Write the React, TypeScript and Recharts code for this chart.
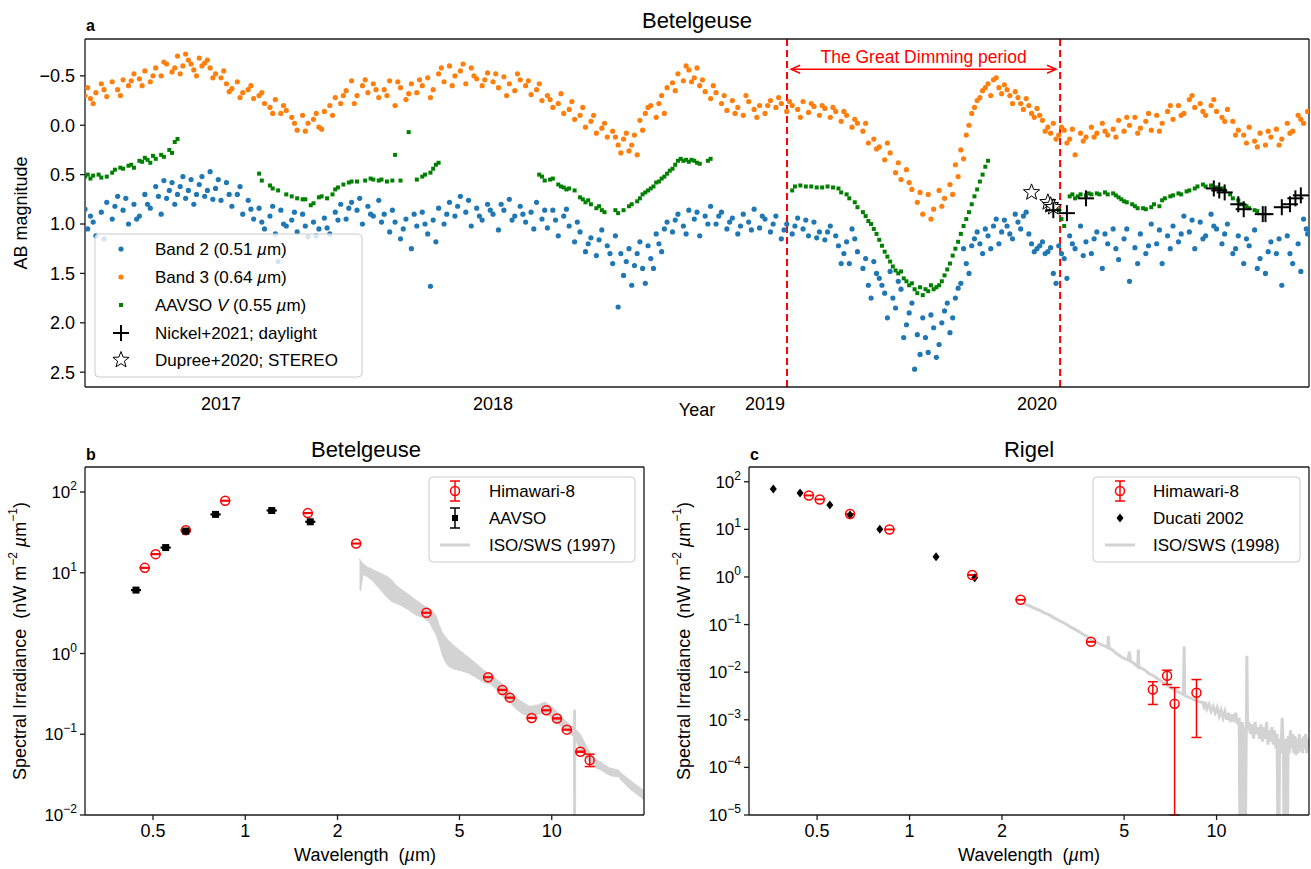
import React from 'react';
import { ComposedChart, Scatter, XAxis, YAxis, ErrorBar, ReferenceLine, Area, Line } from 'recharts';

const FONT = "'Liberation Sans', Arial, Helvetica, sans-serif";
const AX = '#1a1a1a';

// ---------------- Panel a: light curves (decimal year, AB magnitude) ----------------
const yearLabels = [2017, 2018, 2019, 2020];
const midYearTicks = [2017.5, 2018.5, 2019.5, 2020.5];
const magTicks = [-0.5, 0, 0.5, 1, 1.5, 2, 2.5];
const dimmingStart = 2019.081;
const dimmingEnd = 2020.085;

const band3: [number, number][] = [
[2016.50,-0.30],[2016.51,-0.38],[2016.52,-0.27],[2016.54,-0.33],[2016.56,-0.42],[2016.58,-0.29],[2016.60,-0.44],[2016.62,-0.36],[2016.64,-0.46],[2016.66,-0.40],[2016.68,-0.52],[2016.70,-0.47],[2016.72,-0.55],[2016.74,-0.44],[2016.76,-0.58],[2016.78,-0.50],[2016.80,-0.62],[2016.82,-0.54],[2016.84,-0.70],[2016.86,-0.60],[2016.88,-0.66],[2016.90,-0.56],[2016.92,-0.68],[2016.94,-0.63],[2016.96,-0.58],[2016.98,-0.52],
[2017.00,-0.48],[2017.02,-0.42],[2017.04,-0.37],[2017.06,-0.44],[2017.08,-0.33],[2017.10,-0.36],[2017.12,-0.27],[2017.14,-0.30],[2017.16,-0.22],[2017.18,-0.18],[2017.20,-0.26],[2017.22,-0.12],[2017.24,-0.15],[2017.26,-0.08],[2017.28,0.05],[2017.30,-0.10],[2017.32,-0.02],[2017.34,-0.06],[2017.36,0.02],[2017.38,-0.14],[2017.40,-0.20],[2017.42,-0.28],[2017.44,-0.22],[2017.46,-0.35],[2017.48,-0.45],[2017.50,-0.30],[2017.52,-0.40],[2017.54,-0.33],[2017.56,-0.42],[2017.58,-0.28],[2017.60,-0.36],[2017.62,-0.45],[2017.64,-0.20],[2017.66,-0.38],[2017.68,-0.26],[2017.70,-0.42],[2017.72,-0.33],[2017.74,-0.40],[2017.76,-0.48],[2017.78,-0.36],[2017.80,-0.52],[2017.82,-0.44],[2017.84,-0.60],[2017.86,-0.50],[2017.88,-0.55],[2017.90,-0.42],[2017.92,-0.58],[2017.94,-0.47],[2017.96,-0.40],[2017.98,-0.53],
[2018.00,-0.44],[2018.02,-0.38],[2018.04,-0.49],[2018.06,-0.42],[2018.08,-0.35],[2018.10,-0.46],[2018.12,-0.40],[2018.14,-0.31],[2018.16,-0.36],[2018.18,-0.25],[2018.20,-0.30],[2018.22,-0.18],[2018.24,-0.22],[2018.26,-0.12],[2018.28,-0.16],[2018.30,-0.06],[2018.32,-0.10],[2018.34,0.02],[2018.36,-0.04],[2018.38,0.08],[2018.40,0.03],[2018.42,0.12],[2018.44,0.06],[2018.46,0.20],[2018.48,0.14],[2018.50,0.26],[2018.52,0.10],[2018.53,0.30],[2018.54,-0.05],[2018.56,-0.12],[2018.58,-0.20],[2018.60,-0.08],[2018.62,-0.30],[2018.64,-0.38],[2018.66,-0.43],[2018.68,-0.52],[2018.70,-0.45],[2018.72,-0.56],[2018.74,-0.48],[2018.76,-0.40],[2018.78,-0.34],[2018.80,-0.27],[2018.82,-0.33],[2018.84,-0.22],[2018.86,-0.15],[2018.88,-0.25],[2018.90,-0.18],[2018.92,-0.10],[2018.94,-0.24],[2018.96,-0.16],[2018.98,-0.20],
[2019.00,-0.12],[2019.02,-0.25],[2019.04,-0.18],[2019.06,-0.22],[2019.08,-0.14],[2019.10,-0.20],[2019.12,-0.16],[2019.14,-0.24],[2019.16,-0.13],[2019.18,-0.19],[2019.20,-0.10],[2019.22,-0.17],[2019.24,-0.08],[2019.26,-0.14],[2019.28,-0.04],[2019.30,-0.10],[2019.32,0.02],[2019.34,-0.02],[2019.36,0.06],[2019.38,0.18],[2019.40,0.14],[2019.42,0.22],[2019.44,0.35],[2019.46,0.28],[2019.48,0.48],[2019.50,0.55],[2019.52,0.45],[2019.54,0.65],[2019.56,0.78],[2019.58,0.90],[2019.60,0.70],[2019.62,0.85],[2019.64,0.66],[2019.66,0.74],[2019.68,0.60],[2019.70,0.40],[2019.72,0.25],[2019.74,0.10],[2019.76,-0.12],[2019.78,-0.25],[2019.80,-0.35],[2019.82,-0.42],[2019.84,-0.46],[2019.86,-0.38],[2019.88,-0.41],[2019.90,-0.30],[2019.92,-0.34],[2019.94,-0.22],[2019.96,-0.27],[2019.98,-0.12],
[2020.00,-0.17],[2020.02,-0.05],[2020.04,0.02],[2020.06,-0.02],[2020.08,0.10],[2020.10,0.05],[2020.12,0.14],[2020.14,0.30],[2020.16,0.08],[2020.18,0.12],[2020.20,0.02],[2020.22,0.08],[2020.24,-0.02],[2020.26,0.10],[2020.28,0.04],[2020.30,-0.05],[2020.32,0.06],[2020.34,0.00],[2020.36,-0.08],[2020.38,0.03],[2020.40,-0.04],[2020.42,0.05],[2020.44,-0.10],[2020.46,-0.02],[2020.48,-0.14],[2020.50,-0.06],[2020.52,-0.20],[2020.54,-0.12],[2020.56,-0.26],[2020.58,-0.18],[2020.60,-0.22],[2020.62,-0.10],[2020.64,-0.20],[2020.66,-0.14],[2020.68,-0.08],[2020.70,-0.16],[2020.72,-0.04],[2020.74,0.05],[2020.76,0.10],[2020.78,0.02],[2020.80,0.16],[2020.82,0.08],[2020.84,0.20],[2020.86,0.12],[2020.88,0.04],[2020.90,0.14],[2020.92,-0.02],[2020.94,0.06],[2020.96,-0.10],[2020.98,-0.02],[2020.995,-0.14],
[2016.53,-0.22],[2016.57,-0.36],[2016.63,-0.30],[2016.67,-0.45],[2016.71,-0.40],[2016.75,-0.50],[2016.79,-0.64],[2016.83,-0.58],[2016.85,-0.52],[2016.87,-0.72],[2016.89,-0.62],[2016.91,-0.50],[2016.93,-0.60],[2016.95,-0.66],[2016.97,-0.48],[2017.01,-0.55],[2017.03,-0.34],[2017.07,-0.28],[2017.11,-0.40],[2017.15,-0.33],[2017.19,-0.12],[2017.23,-0.20],[2017.27,-0.02],[2017.31,0.06],[2017.35,-0.12],[2017.37,0.04],[2017.41,-0.10],[2017.45,-0.30],[2017.49,-0.22],[2017.53,-0.46],[2017.57,-0.36],[2017.61,-0.30],[2017.65,-0.44],[2017.69,-0.32],[2017.73,-0.46],[2017.77,-0.28],[2017.81,-0.58],[2017.85,-0.40],[2017.89,-0.62],[2017.93,-0.50],[2017.97,-0.46],
[2018.01,-0.52],[2018.05,-0.30],[2018.09,-0.52],[2018.13,-0.45],[2018.17,-0.42],[2018.21,-0.26],[2018.25,-0.32],[2018.29,-0.24],[2018.33,-0.18],[2018.37,-0.10],[2018.41,-0.02],[2018.45,0.12],[2018.47,0.28],[2018.49,0.08],[2018.51,0.20],[2018.55,0.05],[2018.57,-0.18],[2018.61,-0.22],[2018.63,-0.12],[2018.67,-0.35],[2018.71,-0.60],[2018.73,-0.44],[2018.75,-0.58],[2018.77,-0.46],[2018.81,-0.40],[2018.85,-0.30],[2018.89,-0.12],[2018.93,-0.30],[2018.97,-0.08],
[2019.01,-0.20],[2019.05,-0.28],[2019.09,-0.24],[2019.13,-0.08],[2019.17,-0.22],[2019.21,-0.20],[2019.25,-0.18],[2019.29,-0.14],[2019.33,-0.06],[2019.37,-0.02],[2019.41,0.24],[2019.45,0.18],[2019.49,0.38],[2019.53,0.58],[2019.57,0.68],[2019.61,0.95],[2019.65,0.82],[2019.69,0.70],[2019.71,0.52],[2019.73,0.34],[2019.75,0.00],[2019.77,-0.18],[2019.79,-0.28],[2019.81,-0.38],[2019.83,-0.30],[2019.85,-0.48],[2019.87,-0.32],[2019.89,-0.36],[2019.91,-0.22],[2019.93,-0.28],[2019.95,-0.16],[2019.97,-0.20],[2019.99,-0.08],
[2020.01,-0.10],[2020.03,0.06],[2020.05,0.08],[2020.07,0.14],[2020.09,0.02],[2020.11,0.18],[2020.13,0.04],[2020.17,0.16],[2020.21,0.12],[2020.25,0.06],[2020.29,0.12],[2020.33,-0.08],[2020.37,0.08],[2020.41,-0.12],[2020.45,0.06],[2020.49,-0.20],[2020.53,-0.10],[2020.57,-0.30],[2020.61,-0.14],[2020.65,-0.26],[2020.69,-0.04],[2020.73,0.10],[2020.77,0.18],[2020.81,0.22],[2020.85,0.06],[2020.89,0.20],[2020.93,0.08],[2020.97,-0.06]
];

const band2: [number, number][] = [
[2016.50,0.85],[2016.51,1.05],[2016.52,0.92],[2016.54,1.12],[2016.56,0.88],[2016.58,0.78],[2016.60,0.95],[2016.62,0.72],[2016.64,0.86],[2016.66,1.00],[2016.68,0.80],[2016.70,0.92],[2016.72,0.70],[2016.74,0.84],[2016.76,0.62],[2016.78,0.90],[2016.80,0.74],[2016.82,0.58],[2016.84,0.70],[2016.86,0.52],[2016.88,0.66],[2016.90,0.80],[2016.92,0.60],[2016.94,0.72],[2016.96,0.47],[2016.98,0.64],
[2017.00,0.76],[2017.02,0.58],[2017.04,0.82],[2017.06,0.70],[2017.08,0.90],[2017.10,0.76],[2017.12,0.95],[2017.14,0.84],[2017.16,1.05],[2017.18,0.92],[2017.20,1.10],[2017.22,0.86],[2017.24,1.02],[2017.26,0.96],[2017.28,1.08],[2017.30,0.90],[2017.32,1.13],[2017.34,0.98],[2017.36,1.05],[2017.38,0.94],[2017.40,1.10],[2017.42,0.88],[2017.44,0.80],[2017.46,0.95],[2017.48,0.78],[2017.50,0.86],[2017.52,1.00],[2017.54,0.82],[2017.56,0.92],[2017.58,0.76],[2017.60,0.90],[2017.62,1.08],[2017.64,0.98],[2017.66,1.15],[2017.68,0.95],[2017.70,1.25],[2017.72,1.02],[2017.74,0.88],[2017.76,1.10],[2017.78,0.96],[2017.80,0.84],[2017.82,1.00],[2017.84,0.78],[2017.86,0.92],[2017.88,0.72],[2017.90,0.88],[2017.92,1.02],[2017.94,0.84],[2017.96,0.96],[2017.98,0.80],
[2018.00,0.90],[2018.02,1.06],[2018.04,0.86],[2018.06,0.75],[2018.08,0.92],[2018.10,0.82],[2018.12,0.98],[2018.14,0.88],[2018.16,0.78],[2018.18,0.95],[2018.20,1.04],[2018.22,0.86],[2018.24,1.12],[2018.26,0.92],[2018.28,1.02],[2018.30,1.18],[2018.32,1.08],[2018.34,1.28],[2018.36,1.14],[2018.38,1.32],[2018.40,1.06],[2018.42,1.22],[2018.44,1.40],[2018.46,1.84],[2018.47,1.30],[2018.48,1.52],[2018.50,1.25],[2018.52,1.42],[2018.54,1.18],[2018.56,1.60],[2018.58,1.35],[2018.60,1.10],[2018.62,1.28],[2018.64,0.98],[2018.66,1.08],[2018.68,0.90],[2018.70,1.02],[2018.72,0.86],[2018.74,0.95],[2018.76,1.12],[2018.78,0.92],[2018.80,0.82],[2018.82,1.00],[2018.84,0.88],[2018.86,1.05],[2018.88,0.94],[2018.90,1.10],[2018.92,0.90],[2018.94,0.98],[2018.96,0.85],[2018.98,1.04],
[2019.00,0.95],[2019.02,1.08],[2019.04,0.92],[2019.06,1.15],[2019.08,1.00],[2019.10,1.10],[2019.12,0.94],[2019.14,1.05],[2019.16,1.12],[2019.18,0.98],[2019.20,1.08],[2019.22,1.16],[2019.24,1.02],[2019.26,1.12],[2019.28,1.40],[2019.30,1.18],[2019.32,1.05],[2019.34,1.28],[2019.36,1.45],[2019.38,1.62],[2019.40,1.38],[2019.42,1.55],[2019.44,1.70],[2019.46,1.48],[2019.48,1.85],[2019.50,1.66],[2019.52,2.02],[2019.54,1.80],[2019.55,2.47],[2019.56,2.12],[2019.58,1.95],[2019.60,2.30],[2019.62,2.05],[2019.64,2.22],[2019.66,1.88],[2019.68,2.10],[2019.70,1.75],[2019.72,1.60],[2019.74,1.40],[2019.76,1.22],[2019.78,1.08],[2019.80,1.30],[2019.82,1.12],[2019.84,1.02],[2019.86,1.20],[2019.88,0.96],[2019.90,1.10],[2019.92,0.90],[2019.94,1.05],[2019.96,0.88],[2019.98,1.20],
[2020.00,1.25],[2020.02,1.18],[2020.04,1.28],[2020.06,1.50],[2020.08,1.22],[2020.10,1.35],[2020.12,1.12],[2020.14,1.25],[2020.16,1.02],[2020.18,1.18],[2020.20,1.30],[2020.22,1.08],[2020.24,1.45],[2020.26,1.20],[2020.28,1.05],[2020.30,1.36],[2020.32,1.15],[2020.34,1.58],[2020.36,1.24],[2020.38,1.10],[2020.40,1.30],[2020.42,1.00],[2020.44,1.20],[2020.46,1.40],[2020.48,1.12],[2020.50,1.02],[2020.52,1.18],[2020.54,0.92],[2020.56,1.08],[2020.58,1.25],[2020.60,0.98],[2020.62,1.12],[2020.64,0.90],[2020.66,1.05],[2020.68,1.20],[2020.70,1.00],[2020.72,1.30],[2020.74,1.12],[2020.76,1.40],[2020.78,1.22],[2020.80,1.06],[2020.82,1.35],[2020.84,1.50],[2020.86,1.18],[2020.88,1.30],[2020.90,1.62],[2020.92,1.12],[2020.94,1.40],[2020.96,1.20],[2020.98,0.95],[2020.995,1.10],
[2016.53,0.98],[2016.57,1.15],[2016.61,0.82],[2016.65,0.74],[2016.69,0.95],[2016.73,0.80],[2016.77,0.72],[2016.79,0.56],[2016.81,0.66],[2016.83,0.80],[2016.85,0.62],[2016.87,0.74],[2016.89,0.55],[2016.91,0.70],[2016.93,0.52],[2016.95,0.66],[2016.97,0.75],[2016.99,0.55],[2017.03,0.70],[2017.07,0.62],[2017.11,0.85],[2017.15,0.98],[2017.19,0.82],[2017.21,1.38],[2017.23,1.00],[2017.27,0.88],[2017.31,1.02],[2017.35,1.12],[2017.39,1.04],[2017.43,0.96],[2017.47,0.84],[2017.51,0.74],[2017.55,0.90],[2017.59,0.98],[2017.63,0.86],[2017.67,1.05],[2017.71,0.90],[2017.75,1.00],[2017.77,1.63],[2017.79,1.18],[2017.83,0.90],[2017.87,0.82],[2017.91,0.76],[2017.95,0.92],[2017.99,0.86],
[2018.03,0.80],[2018.07,0.96],[2018.11,0.90],[2018.15,1.05],[2018.19,0.86],[2018.23,0.96],[2018.27,0.85],[2018.31,0.98],[2018.35,1.20],[2018.39,1.16],[2018.43,1.30],[2018.45,1.12],[2018.49,1.38],[2018.51,1.62],[2018.53,1.30],[2018.55,1.45],[2018.57,1.22],[2018.59,1.45],[2018.61,1.20],[2018.63,1.05],[2018.67,0.96],[2018.71,1.10],[2018.75,0.88],[2018.79,1.00],[2018.83,0.92],[2018.87,0.98],[2018.91,1.02],[2018.95,1.06],[2018.99,0.92],
[2019.03,1.00],[2019.07,1.06],[2019.11,1.02],[2019.15,0.96],[2019.19,1.14],[2019.23,1.08],[2019.27,1.22],[2019.29,1.30],[2019.31,1.40],[2019.33,1.15],[2019.37,1.35],[2019.39,1.75],[2019.41,1.50],[2019.43,1.62],[2019.45,1.95],[2019.47,1.75],[2019.49,1.58],[2019.51,2.15],[2019.53,1.90],[2019.57,2.32],[2019.59,2.15],[2019.61,1.92],[2019.63,2.35],[2019.65,2.00],[2019.67,1.80],[2019.69,1.95],[2019.71,1.65],[2019.73,1.25],[2019.75,1.50],[2019.77,1.15],[2019.79,1.20],[2019.81,1.05],[2019.83,1.25],[2019.85,0.95],[2019.87,1.08],[2019.89,1.02],[2019.91,1.15],[2019.93,0.98],[2019.95,0.92],[2019.97,1.10],[2019.99,1.28],
[2020.01,1.22],[2020.03,1.30],[2020.05,1.24],[2020.07,1.60],[2020.09,1.30],[2020.11,1.55],[2020.13,1.20],[2020.17,1.32],[2020.21,1.15],[2020.25,1.10],[2020.29,1.25],[2020.33,1.05],[2020.37,1.40],[2020.41,1.22],[2020.45,1.06],[2020.49,1.25],[2020.53,1.10],[2020.57,0.96],[2020.61,1.15],[2020.65,1.02],[2020.69,1.10],[2020.73,1.25],[2020.77,1.15],[2020.81,1.45],[2020.85,1.28],[2020.89,1.15],[2020.93,1.30],[2020.97,1.48],[2020.99,1.05]
];

const aavsoV: [number, number][] = [
[2016.50,0.52],[2016.51,0.50],[2016.52,0.54],[2016.53,0.51],[2016.55,0.50],[2016.56,0.53],[2016.58,0.52],[2016.60,0.48],[2016.61,0.45],[2016.63,0.43],[2016.64,0.44],[2016.66,0.41],[2016.67,0.40],[2016.68,0.43],[2016.70,0.36],[2016.71,0.37],[2016.72,0.33],[2016.73,0.35],[2016.74,0.38],[2016.75,0.31],[2016.76,0.34],[2016.78,0.30],[2016.79,0.32],[2016.81,0.25],[2016.82,0.28],[2016.83,0.17],[2016.84,0.14],
[2017.14,0.49],[2017.15,0.56],[2017.18,0.61],[2017.19,0.64],[2017.21,0.66],[2017.24,0.70],[2017.26,0.72],[2017.28,0.74],[2017.30,0.75],[2017.31,0.75],[2017.33,0.81],[2017.34,0.79],[2017.36,0.73],[2017.37,0.72],[2017.39,0.74],[2017.41,0.70],[2017.42,0.65],[2017.43,0.63],[2017.45,0.60],[2017.47,0.58],[2017.48,0.57],[2017.50,0.57],[2017.53,0.56],[2017.55,0.54],[2017.56,0.55],[2017.58,0.56],[2017.59,0.55],[2017.61,0.57],[2017.63,0.56],[2017.64,0.30],[2017.66,0.56],[2017.69,0.07],[2017.72,0.55],[2017.74,0.52],[2017.75,0.50],[2017.77,0.48],[2017.78,0.44],[2017.79,0.40],[2017.80,0.38],
[2018.17,0.50],[2018.18,0.52],[2018.19,0.56],[2018.21,0.55],[2018.22,0.54],[2018.24,0.60],[2018.25,0.62],[2018.26,0.63],[2018.27,0.65],[2018.28,0.64],[2018.30,0.66],[2018.32,0.73],[2018.33,0.75],[2018.34,0.78],[2018.35,0.76],[2018.36,0.80],[2018.38,0.84],[2018.39,0.82],[2018.40,0.86],[2018.41,0.88],[2018.45,0.86],[2018.46,0.89],[2018.48,0.86],[2018.50,0.82],[2018.51,0.80],[2018.53,0.77],[2018.54,0.74],[2018.55,0.70],[2018.56,0.68],[2018.57,0.66],[2018.58,0.64],[2018.59,0.62],[2018.60,0.58],[2018.61,0.57],[2018.62,0.54],[2018.63,0.52],[2018.64,0.49],[2018.65,0.46],[2018.66,0.44],[2018.67,0.40],[2018.68,0.36],[2018.69,0.34],[2018.70,0.36],[2018.71,0.35],[2018.72,0.37],[2018.73,0.35],[2018.74,0.36],[2018.75,0.38],[2018.76,0.39],[2018.79,0.36],[2018.80,0.34],
[2019.10,0.66],[2019.11,0.62],[2019.13,0.61],[2019.15,0.62],[2019.17,0.62],[2019.19,0.63],[2019.21,0.63],[2019.23,0.62],[2019.25,0.63],[2019.27,0.64],[2019.28,0.68],[2019.30,0.70],[2019.31,0.74],[2019.33,0.78],[2019.34,0.83],[2019.36,0.88],[2019.37,0.92],[2019.38,0.97],[2019.39,1.00],[2019.40,1.05],[2019.41,1.10],[2019.42,1.16],[2019.43,1.22],[2019.44,1.28],[2019.45,1.33],[2019.46,1.38],[2019.47,1.43],[2019.48,1.47],[2019.49,1.50],[2019.50,1.48],[2019.51,1.55],[2019.52,1.58],[2019.53,1.62],[2019.54,1.60],[2019.55,1.66],[2019.56,1.70],[2019.57,1.64],[2019.58,1.72],[2019.59,1.66],[2019.60,1.68],[2019.61,1.62],[2019.62,1.66],[2019.63,1.64],[2019.64,1.62],[2019.65,1.58],[2019.66,1.52],[2019.67,1.46],[2019.68,1.40],[2019.69,1.32],[2019.70,1.25],[2019.71,1.18],[2019.72,1.10],[2019.73,1.02],[2019.74,0.95],[2019.75,0.88],[2019.76,0.80],[2019.77,0.72],[2019.78,0.65],[2019.79,0.57],[2019.80,0.50],[2019.81,0.42],[2019.82,0.36],
[2020.08,0.86],[2020.09,0.95],[2020.10,1.02],[2020.12,0.72],[2020.13,0.70],[2020.14,0.74],[2020.15,0.72],[2020.16,0.70],[2020.18,0.71],[2020.19,0.69],[2020.20,0.70],[2020.22,0.69],[2020.23,0.70],[2020.25,0.68],[2020.26,0.70],[2020.28,0.69],[2020.29,0.71],[2020.30,0.73],[2020.31,0.75],[2020.32,0.77],[2020.33,0.78],[2020.35,0.80],[2020.36,0.82],[2020.37,0.84],[2020.39,0.84],[2020.40,0.85],[2020.42,0.83],[2020.43,0.80],[2020.45,0.82],[2020.46,0.76],[2020.47,0.74],[2020.49,0.72],[2020.50,0.71],[2020.52,0.69],[2020.53,0.70],[2020.55,0.67],[2020.56,0.66],[2020.58,0.64],[2020.59,0.62],[2020.61,0.60],[2020.62,0.62],[2020.64,0.61],[2020.66,0.63],[2020.68,0.64],[2020.69,0.66],[2020.71,0.70],[2020.72,0.74],[2020.74,0.76],[2020.75,0.80],[2020.77,0.82],[2020.78,0.84],[2020.80,0.86],[2020.81,0.87]
];

const nickel2021: [number, number][] = [
[2020.06,0.86],[2020.11,0.89],[2020.18,0.74],[2020.65,0.64],[2020.67,0.66],[2020.69,0.68],[2020.74,0.80],[2020.76,0.85],[2020.83,0.90],[2020.84,0.90],[2020.90,0.83],[2020.93,0.80],[2020.95,0.74],[2020.97,0.71]
];

const dupree2020: [number, number][] = [
[2019.98,0.68],[2020.04,0.78],[2020.05,0.81],[2020.06,0.83]
];

// ---------------- Panels b, c: spectral energy distributions ----------------
// [wavelength um, irradiance nW m^-2 um^-1, lower error, upper error]
const betelHimawari: [number, number, number, number][] = [
[0.47,11.5,0.1,0.1],[0.51,17,0.15,0.15],[0.64,33.7,0.3,0.3],[0.86,78,0.7,0.7],[1.6,54.8,0.5,0.5],[2.3,23,0.2,0.2],[3.9,3.2,0.03,0.03],[6.2,0.508,0.005,0.005],[6.9,0.354,0.004,0.004],[7.3,0.284,0.003,0.003],[8.6,0.159,0.002,0.002],[9.6,0.198,0.002,0.002],[10.4,0.157,0.002,0.002],[11.2,0.114,0.001,0.001],[12.4,0.0607,0.001,0.001],[13.3,0.0478,0.008,0.0089]
];
const betelAAVSO: [number, number, number, number][] = [
[0.44,6.1,0.06,0.06],[0.55,20.5,0.2,0.2],[0.64,32.8,0.3,0.3],[0.80,52.8,0.5,0.5],[1.22,59,0.6,0.6],[1.63,42.8,0.4,0.4]
];
// ISO/SWS 1997 spectrum envelope [wavelength, low, high]
const betelISO: [number, number, number][] = [
[2.36,6.4,15],[2.38,6.0,14],[2.42,9.5,13],[2.5,9.0,11.8],[2.6,8.0,11.0],[2.7,6.8,10.2],[2.8,5.8,9.6],[2.9,5.0,9.0],[3.0,4.4,8.2],[3.1,4.2,7.0],[3.2,4.0,6.4],[3.4,3.5,5.4],[3.6,3.0,4.6],[3.8,2.8,4.0],[3.9,2.6,3.7],[4.0,2.4,3.6],[4.1,2.0,3.3],[4.2,1.7,2.9],[4.3,1.3,2.2],[4.4,0.95,1.8],[4.5,0.78,1.6],[4.6,0.7,1.45],[4.8,0.64,1.25],[5.0,0.62,1.1],[5.3,0.58,0.92],[5.6,0.52,0.78],[6.0,0.44,0.62],[6.3,0.42,0.55],[6.6,0.36,0.48],[7.0,0.28,0.40],[7.3,0.25,0.34],[7.6,0.21,0.29],[8.0,0.18,0.25],[8.5,0.165,0.22],[9.0,0.175,0.23],[9.5,0.185,0.25],[10.0,0.16,0.22],[10.5,0.135,0.185],[11.0,0.115,0.15],[11.5,0.1,0.13],[11.78,0.095,0.12],[11.8,0.0001,0.2],[11.95,0.0001,0.2],[11.97,0.085,0.115],[12.4,0.064,0.1],[13.0,0.05,0.07],[13.5,0.042,0.055],[14.0,0.038,0.048],[14.5,0.036,0.045],[15.0,0.033,0.041],[15.5,0.031,0.038],[16.0,0.03,0.037],[16.5,0.03,0.036],[17.0,0.026,0.032],[18.0,0.021,0.027],[19.0,0.018,0.023],[20.0,0.0155,0.02]
];

const rigelHimawari: [number, number, number, number][] = [
[0.47,51.5,0.5,0.5],[0.51,42.5,0.4,0.4],[0.64,21,0.2,0.2],[0.86,9.95,0.1,0.1],[1.6,1.1,0.01,0.01],[2.3,0.332,0.003,0.003],[3.9,0.0435,0.0004,0.0004],[6.2,0.0043,0.0022,0.002],[6.9,0.0084,0.0029,0.0026],[7.3,0.00216,0.00215,0.00259],[8.6,0.0037,0.003275,0.0033]
];
const rigelDucati: [number, number][] = [
[0.36,70],[0.44,58],[0.55,32.4],[0.64,20],[0.80,10.1],[1.22,2.65],[1.63,0.96]
];
// ISO/SWS 1998 spectrum [wavelength, irradiance]
const rigelISO: [number, number][] = [
[2.35,0.28],[2.45,0.25],[2.55,0.22],[2.65,0.2],[2.75,0.175],[2.85,0.16],[2.95,0.14],[3.05,0.125],[3.15,0.112],[3.25,0.1],[3.35,0.088],[3.45,0.08],[3.55,0.072],[3.65,0.064],[3.75,0.058],[3.85,0.052],[3.95,0.046],[4.05,0.043],[4.15,0.04],[4.25,0.037],[4.35,0.035],[4.42,0.033],[4.44,0.058],[4.46,0.033],[4.55,0.03],[4.65,0.027],[4.75,0.024],[4.85,0.022],[4.95,0.02],[5.05,0.019],[5.15,0.018],[5.2,0.027],[5.25,0.017],[5.4,0.015],[5.54,0.013],[5.56,0.03],[5.58,0.013],[5.7,0.012],[5.85,0.011],[6.0,0.0095],[6.15,0.0088],[6.3,0.008],[6.45,0.0072],[6.6,0.0065],[6.8,0.0058],[7.0,0.005],[7.2,0.0045],[7.4,0.004],[7.6,0.0037],[7.8,0.0034],[7.84,0.035],[7.88,0.0033],[8.0,0.0031],[8.3,0.0028],[8.6,0.0025],
[9.0,0.0023],[9.1,0.0019],[9.2,0.0024],[9.3,0.0017],[9.45,0.0021],[9.6,0.0015],[9.75,0.0019],[9.9,0.0014],[10.05,0.0018],[10.2,0.0012],[10.35,0.0016],[10.5,0.0011],[10.65,0.0015],[10.8,0.001],[10.95,0.0014],[11.1,0.0009],[11.25,0.0013],[11.4,0.0009],[11.55,0.0014],[11.7,0.0008],[11.85,0.0011],[11.95,0.0000001],[12.1,0.0009],[12.25,0.0006],[12.35,0.0000001],[12.5,0.0008],[12.55,0.022],[12.62,0.0006],[12.75,0.0009],[12.9,0.0005],[13.05,0.0008],[13.2,0.0004],[13.35,0.0009],[13.5,0.0005],[13.65,0.0007],[13.8,0.0004],[13.95,0.0008],[14.1,0.00035],[14.25,0.0007],[14.4,0.0004],[14.55,0.0009],[14.7,0.0003],[14.85,0.0006],[15.0,0.00035],[15.15,0.0007],[15.3,0.0003],[15.45,0.0006],[15.6,0.00025],[15.75,0.0005],[15.9,0.0000001],[16.05,0.0004],[16.2,0.0002],[16.35,0.0011],[16.5,0.00025],[16.65,0.0000001],[16.8,0.0004],[16.95,0.0000001],[17.1,0.00045],[17.25,0.0002],[17.4,0.0006],[17.55,0.00025],[17.7,0.0005],[17.85,0.0002],[18.0,0.00045],[18.15,0.00018],[18.3,0.0004],[18.45,0.0002],[18.6,0.0005],[18.75,0.00022],[18.9,0.0004],[19.05,0.0002],[19.2,0.00045],[19.35,0.00025],[19.5,0.0005],[19.65,0.0002],[19.8,0.0004],[20.0,0.00025]
];

const lamDomain: [number, number] = [0.3, 20];
const lamMajor = [0.5, 1, 2, 5, 10];
const lamMinor = [0.3, 0.4, 0.6, 0.7, 0.8, 0.9, 3, 4, 6, 7, 8, 9, 20];
const fluxTop = 204;
const decadesB = [0.01, 0.1, 1, 10, 100];
const decadesC = [1e-5, 1e-4, 1e-3, 0.01, 0.1, 1, 10, 100];
const minorsOf = (decs: number[]) => {
  const out: number[] = [];
  decs.forEach((d) => { for (let k = 2; k <= 9; k++) { const v = k * d; if (v <= fluxTop) out.push(v); } });
  return out;
};
const minorB = minorsOf(decadesB);
const minorC = minorsOf(decadesC);

// -------- data objects for the library --------
const toTM = (a: [number, number][]) => a.map(([t, m]) => ({ t, m }));
const toErr = (a: [number, number, number, number][]) => a.map(([w, v, lo, hi]) => ({ w, v, err: [lo, hi] }));
const b2Data = toTM(band2);
const b3Data = toTM(band3);
const avData = toTM(aavsoV);
const nkData = toTM(nickel2021);
const dpData = toTM(dupree2020);
const bHimData = toErr(betelHimawari);
const bAavData = toErr(betelAAVSO);
const bIsoData = betelISO.map(([w, lo, hi]) => ({ w, band: [lo, hi] }));
const rHimData = toErr(rigelHimawari);
const rDucData = rigelDucati.map(([w, v]) => ({ w, v }));
const rIsoData = rigelISO.map(([w, f]) => ({ w, f }));

// -------- shapes --------
const dotShape = (color: string, r: number) => (p: any) => <circle cx={p.cx} cy={p.cy} r={r} fill={color} />;
const squareShape = (color: string, s: number) => (p: any) => <rect x={p.cx - s / 2} y={p.cy - s / 2} width={s} height={s} fill={color} />;
const plusShape = (p: any) => (
  <g stroke="#000" strokeWidth={2}>
    <line x1={p.cx - 8} y1={p.cy} x2={p.cx + 8} y2={p.cy} />
    <line x1={p.cx} y1={p.cy - 8} x2={p.cx} y2={p.cy + 8} />
  </g>
);
const starPoints = (cx: number, cy: number, R: number, r: number) => {
  const pts: string[] = [];
  for (let i = 0; i < 10; i++) {
    const a = (-90 + i * 36) * Math.PI / 180;
    const rr = i % 2 === 0 ? R : r;
    pts.push(`${cx + rr * Math.cos(a)},${cy + rr * Math.sin(a)}`);
  }
  return pts.join(' ');
};
const starShape = (p: any) => <polygon points={starPoints(p.cx, p.cy, 8.5, 3.6)} fill="#fff" stroke="#000" strokeWidth={1} />;
const openCircle = (p: any) => <circle cx={p.cx} cy={p.cy} r={4.5} fill="none" stroke="#ff0000" strokeWidth={1.5} />;
const diamondShape = (p: any) => <polygon points={`${p.cx},${p.cy - 4.5} ${p.cx + 3.5},${p.cy} ${p.cx},${p.cy + 4.5} ${p.cx - 3.5},${p.cy}`} fill="#000" />;

const DimArrow = (p: any) => {
  const { x1, y1, x2 } = p;
  const y = y1;
  return (
    <g>
      <line x1={x1} y1={y} x2={x2} y2={y} stroke="#ff0000" strokeWidth={1.5} />
      <polyline points={`${x1 + 9},${y - 4} ${x1},${y} ${x1 + 9},${y + 4}`} fill="none" stroke="#ff0000" strokeWidth={1.5} />
      <polyline points={`${x2 - 9},${y - 4} ${x2},${y} ${x2 - 9},${y + 4}`} fill="none" stroke="#ff0000" strokeWidth={1.5} />
      <text x={(x1 + x2) / 2} y={y - 6} textAnchor="middle" fill="#ff0000" fontSize={17.5} fontFamily={FONT}>The Great Dimming period</text>
    </g>
  );
};

const tickStyle = { fill: '#000', fontSize: 18, fontFamily: FONT };
const fmtMag = (v: number) => (v < 0 ? '\u2212' + Math.abs(v).toFixed(1) : v.toFixed(1));

function PowTick(props: any) {
  const { x, y, payload } = props;
  const e = Math.round(Math.log10(payload.value));
  const s = e < 0 ? '\u2212' + Math.abs(e) : String(e);
  return (
    <text x={x} y={y} dy={6} textAnchor="end" fill="#000" fontSize={17} fontFamily={FONT}>
      10<tspan dy={-8} fontSize={12}>{s}</tspan>
    </text>
  );
}

// Major (labelled) axes are declared first so they sit on the plot edge; minor tick axes follow (1 px further out).
const logXAxes = (dataKeyName: string) => [
  <XAxis key="xb" xAxisId="xb" dataKey={dataKeyName} type="number" scale="log" orientation="bottom" domain={lamDomain} allowDataOverflow ticks={lamMajor} interval={0} tickSize={5} tickMargin={4} tick={tickStyle} tickFormatter={(v: number) => String(v)} stroke={AX} strokeWidth={1.3} height={1} />,
  <XAxis key="xbm" xAxisId="xbm" type="number" scale="log" orientation="bottom" domain={lamDomain} allowDataOverflow ticks={lamMinor} interval={0} tick={false} tickSize={3} axisLine={false} stroke={AX} strokeWidth={1.2} height={1} />,
  <XAxis key="xt" xAxisId="xt" type="number" scale="log" orientation="top" domain={lamDomain} allowDataOverflow ticks={lamMajor} interval={0} tick={false} tickSize={5} stroke={AX} strokeWidth={1.3} height={1} />,
  <XAxis key="xtm" xAxisId="xtm" type="number" scale="log" orientation="top" domain={lamDomain} allowDataOverflow ticks={lamMinor} interval={0} tick={false} tickSize={3} axisLine={false} stroke={AX} strokeWidth={1.2} height={1} />,
];
const logYAxes = (dom: [number, number], decs: number[], mins: number[]) => [
  <YAxis key="yl" yAxisId="yl" type="number" scale="log" orientation="left" domain={dom} allowDataOverflow ticks={decs} interval={0} tickSize={5} tickMargin={3} tick={<PowTick />} stroke={AX} strokeWidth={1.3} width={1} />,
  <YAxis key="ylm" yAxisId="ylm" type="number" scale="log" orientation="left" domain={dom} allowDataOverflow ticks={mins} interval={0} tick={false} tickSize={3} axisLine={false} stroke={AX} strokeWidth={1.2} width={1} />,
  <YAxis key="yr" yAxisId="yr" type="number" scale="log" orientation="right" domain={dom} allowDataOverflow ticks={decs} interval={0} tick={false} tickSize={5} stroke={AX} strokeWidth={1.3} width={1} />,
  <YAxis key="yrm" yAxisId="yrm" type="number" scale="log" orientation="right" domain={dom} allowDataOverflow ticks={mins} interval={0} tick={false} tickSize={3} axisLine={false} stroke={AX} strokeWidth={1.2} width={1} />,
];

const MU = () => <tspan fontStyle="italic">µ</tspan>;

export default function App() {
  return (
    <div style={{ position: 'absolute', left: 0, top: 0, width: 1311, height: 869, background: '#fff', fontFamily: FONT }}>
      {/* Panel a */}
      <div style={{ position: 'absolute', left: 0, top: 0 }}>
        <ComposedChart width={1311} height={420} margin={{ top: 38, right: 1, bottom: 31, left: 84 }}>
          <XAxis xAxisId="xb" dataKey="t" type="number" orientation="bottom" domain={[2016.5, 2021]} allowDataOverflow ticks={yearLabels} interval={0} tickLine={false} tickSize={4} tickMargin={6} tick={tickStyle} stroke={AX} strokeWidth={1.3} height={1} />
          <XAxis xAxisId="xbm" type="number" orientation="bottom" domain={[2016.5, 2021]} allowDataOverflow ticks={midYearTicks} interval={0} tick={false} tickSize={5} axisLine={false} stroke={AX} strokeWidth={1.3} height={1} />
          <XAxis xAxisId="xt" type="number" orientation="top" domain={[2016.5, 2021]} allowDataOverflow ticks={midYearTicks} interval={0} tick={false} tickSize={5} stroke={AX} strokeWidth={1.3} height={1} />
          <YAxis yAxisId="yl" type="number" orientation="left" domain={[-0.873, 2.65]} reversed allowDataOverflow ticks={magTicks} interval={0} tickFormatter={fmtMag} tick={tickStyle} tickSize={5} tickMargin={5} stroke={AX} strokeWidth={1.3} width={1} />
          <YAxis yAxisId="yr" type="number" orientation="right" domain={[-0.873, 2.65]} reversed allowDataOverflow ticks={magTicks} interval={0} tick={false} tickSize={5} stroke={AX} strokeWidth={1.3} width={1} />
          <Scatter xAxisId="xb" yAxisId="yl" data={b2Data} dataKey="m" shape={dotShape('#1f77b4', 2.6)} isAnimationActive={false} />
          <Scatter xAxisId="xb" yAxisId="yl" data={b3Data} dataKey="m" shape={dotShape('#ff7f0e', 2.6)} isAnimationActive={false} />
          <Scatter xAxisId="xb" yAxisId="yl" data={avData} dataKey="m" shape={squareShape('#008000', 4)} isAnimationActive={false} />
          <Scatter xAxisId="xb" yAxisId="yl" data={dpData} dataKey="m" shape={starShape} isAnimationActive={false} />
          <Scatter xAxisId="xb" yAxisId="yl" data={nkData} dataKey="m" shape={plusShape} isAnimationActive={false} />
          <ReferenceLine xAxisId="xb" yAxisId="yl" x={dimmingStart} stroke="#ff0000" strokeWidth={2} strokeDasharray="7 4" />
          <ReferenceLine xAxisId="xb" yAxisId="yl" x={dimmingEnd} stroke="#ff0000" strokeWidth={2} strokeDasharray="7 4" />
          <ReferenceLine xAxisId="xb" yAxisId="yl" segment={[{ x: dimmingStart + 0.015, y: -0.567 }, { x: dimmingEnd - 0.015, y: -0.567 }]} shape={DimArrow} />
        </ComposedChart>
      </div>

      {/* Panel b */}
      <div style={{ position: 'absolute', left: 0, top: 420 }}>
        <ComposedChart width={660} height={449} data={bIsoData} margin={{ top: 45, right: 14, bottom: 52, left: 83 }}>
          {logXAxes('w')}
          {logYAxes([0.01, fluxTop], decadesB, minorB)}
          <Area xAxisId="xb" yAxisId="yl" type="linear" dataKey="band" stroke="#d3d3d3" strokeWidth={1} fill="#d3d3d3" fillOpacity={1} dot={false} activeDot={false} isAnimationActive={false} />
          <Scatter xAxisId="xb" yAxisId="yl" data={bHimData} dataKey="v" shape={openCircle} isAnimationActive={false}>
            <ErrorBar dataKey="err" direction="y" width={5} stroke="#ff0000" strokeWidth={1.5} />
          </Scatter>
          <Scatter xAxisId="xb" yAxisId="yl" data={bAavData} dataKey="v" shape={squareShape('#000', 7)} isAnimationActive={false}>
            <ErrorBar dataKey="err" direction="y" width={5} stroke="#000" strokeWidth={1.5} />
          </Scatter>
        </ComposedChart>
      </div>

      {/* Panel c */}
      <div style={{ position: 'absolute', left: 660, top: 420 }}>
        <ComposedChart width={651} height={449} data={rIsoData} margin={{ top: 45, right: 0, bottom: 52, left: 87 }}>
          {logXAxes('w')}
          {logYAxes([1e-5, fluxTop], decadesC, minorC)}
          <Line xAxisId="xb" yAxisId="yl" type="linear" dataKey="f" stroke="#d3d3d3" strokeWidth={3} dot={false} activeDot={false} isAnimationActive={false} />
          <Scatter xAxisId="xb" yAxisId="yl" data={rDucData} dataKey="v" shape={diamondShape} isAnimationActive={false} />
          <Scatter xAxisId="xb" yAxisId="yl" data={rHimData} dataKey="v" shape={openCircle} isAnimationActive={false}>
            <ErrorBar dataKey="err" direction="y" width={5} stroke="#ff0000" strokeWidth={1.5} />
          </Scatter>
        </ComposedChart>
      </div>

      {/* Text and legends overlay */}
      <svg width={1311} height={869} style={{ position: 'absolute', left: 0, top: 0, pointerEvents: 'none' }} fontFamily={FONT}>
        {/* panel a */}
        <text x={86} y={31} fontSize={16} fontWeight="bold">a</text>
        <text x={697} y={28} fontSize={22} textAnchor="middle">Betelgeuse</text>
        <text transform="translate(21,213) rotate(-90)" fontSize={18} textAnchor="middle" dominantBaseline="central">AB magnitude</text>
        <text x={697} y={416} fontSize={18} textAnchor="middle">Year</text>
        <rect x={95} y={234} width={267} height={143} rx={4} fill="#fff" fillOpacity={0.8} stroke="#cccccc" strokeWidth={1} />
        <circle cx={121} cy={249} r={2.6} fill="#1f77b4" />
        <circle cx={121} cy={277} r={2.6} fill="#ff7f0e" />
        <rect x={119} y={303} width={4} height={4} fill="#008000" />
        <g stroke="#000" strokeWidth={2}><line x1={113} y1={333} x2={129} y2={333} /><line x1={121} y1={325} x2={121} y2={341} /></g>
        <polygon points={starPoints(121, 360, 8.5, 3.6)} fill="#fff" stroke="#000" strokeWidth={1} />
        <text x={155} y={249} fontSize={17} dominantBaseline="central">Band 2 (0.51 <MU />m)</text>
        <text x={155} y={277} fontSize={17} dominantBaseline="central">Band 3 (0.64 <MU />m)</text>
        <text x={155} y={305} fontSize={17} dominantBaseline="central">AAVSO  <tspan fontStyle="italic">V</tspan> (0.55 <MU />m)</text>
        <text x={155} y={333} fontSize={17} dominantBaseline="central">Nickel+2021; daylight</text>
        <text x={155} y={360} fontSize={17} dominantBaseline="central">Dupree+2020; STEREO</text>

        {/* panel b */}
        <text x={86} y={460} fontSize={16} fontWeight="bold">b</text>
        <text x={366} y={457} fontSize={22} textAnchor="middle">Betelgeuse</text>
        <text transform="translate(20,641) rotate(-90)" fontSize={18} textAnchor="middle" dominantBaseline="central">
          Spectral Irradiance{'\u00a0\u00a0'}(nW m<tspan dy={-7} fontSize={12}>{'\u22122'}</tspan><tspan dy={7}>{'\u00a0'}</tspan><MU />m<tspan dy={-7} fontSize={12}>{'\u22121'}</tspan><tspan dy={7}>)</tspan>
        </text>
        <text x={365} y={861} fontSize={18} textAnchor="middle">Wavelength{'\u00a0\u00a0'}(<MU />m)</text>
        <rect x={429} y={477} width={206} height={85} rx={4} fill="#fff" fillOpacity={0.8} stroke="#cccccc" strokeWidth={1} />
        <g stroke="#ff0000" strokeWidth={1.5} fill="none">
          <line x1={455} y1={481} x2={455} y2={501} /><line x1={450} y1={481} x2={460} y2={481} /><line x1={450} y1={501} x2={460} y2={501} />
          <circle cx={455} cy={491} r={4.5} />
        </g>
        <g stroke="#000" strokeWidth={1.5}>
          <line x1={455} y1={508} x2={455} y2={528} /><line x1={450} y1={508} x2={460} y2={508} /><line x1={450} y1={528} x2={460} y2={528} />
        </g>
        <rect x={452} y={515} width={6} height={6} fill="#000" />
        <line x1={440} y1={545} x2={470} y2={545} stroke="#d3d3d3" strokeWidth={3} />
        <text x={489} y={491} fontSize={17} dominantBaseline="central">Himawari-8</text>
        <text x={489} y={518} fontSize={17} dominantBaseline="central">AAVSO</text>
        <text x={489} y={545} fontSize={17} dominantBaseline="central">ISO/SWS (1997)</text>

        {/* panel c */}
        <text x={750} y={460} fontSize={16} fontWeight="bold">c</text>
        <text x={1029} y={457} fontSize={22} textAnchor="middle">Rigel</text>
        <text transform="translate(684,641) rotate(-90)" fontSize={18} textAnchor="middle" dominantBaseline="central">
          Spectral Irradiance{'\u00a0\u00a0'}(nW m<tspan dy={-7} fontSize={12}>{'\u22122'}</tspan><tspan dy={7}>{'\u00a0'}</tspan><MU />m<tspan dy={-7} fontSize={12}>{'\u22121'}</tspan><tspan dy={7}>)</tspan>
        </text>
        <text x={1029} y={861} fontSize={18} textAnchor="middle">Wavelength{'\u00a0\u00a0'}(<MU />m)</text>
        <rect x={1093} y={477} width={207} height={85} rx={4} fill="#fff" fillOpacity={0.8} stroke="#cccccc" strokeWidth={1} />
        <g stroke="#ff0000" strokeWidth={1.5} fill="none">
          <line x1={1120} y1={481} x2={1120} y2={501} /><line x1={1115} y1={481} x2={1125} y2={481} /><line x1={1115} y1={501} x2={1125} y2={501} />
          <circle cx={1120} cy={491} r={4.5} />
        </g>
        <polygon points={`1120,513.5 1123.5,518 1120,522.5 1116.5,518`} fill="#000" />
        <line x1={1105} y1={545} x2={1135} y2={545} stroke="#d3d3d3" strokeWidth={3} />
        <text x={1153} y={491} fontSize={17} dominantBaseline="central">Himawari-8</text>
        <text x={1153} y={518} fontSize={17} dominantBaseline="central">Ducati 2002</text>
        <text x={1153} y={545} fontSize={17} dominantBaseline="central">ISO/SWS (1998)</text>
      </svg>
    </div>
  );
}
